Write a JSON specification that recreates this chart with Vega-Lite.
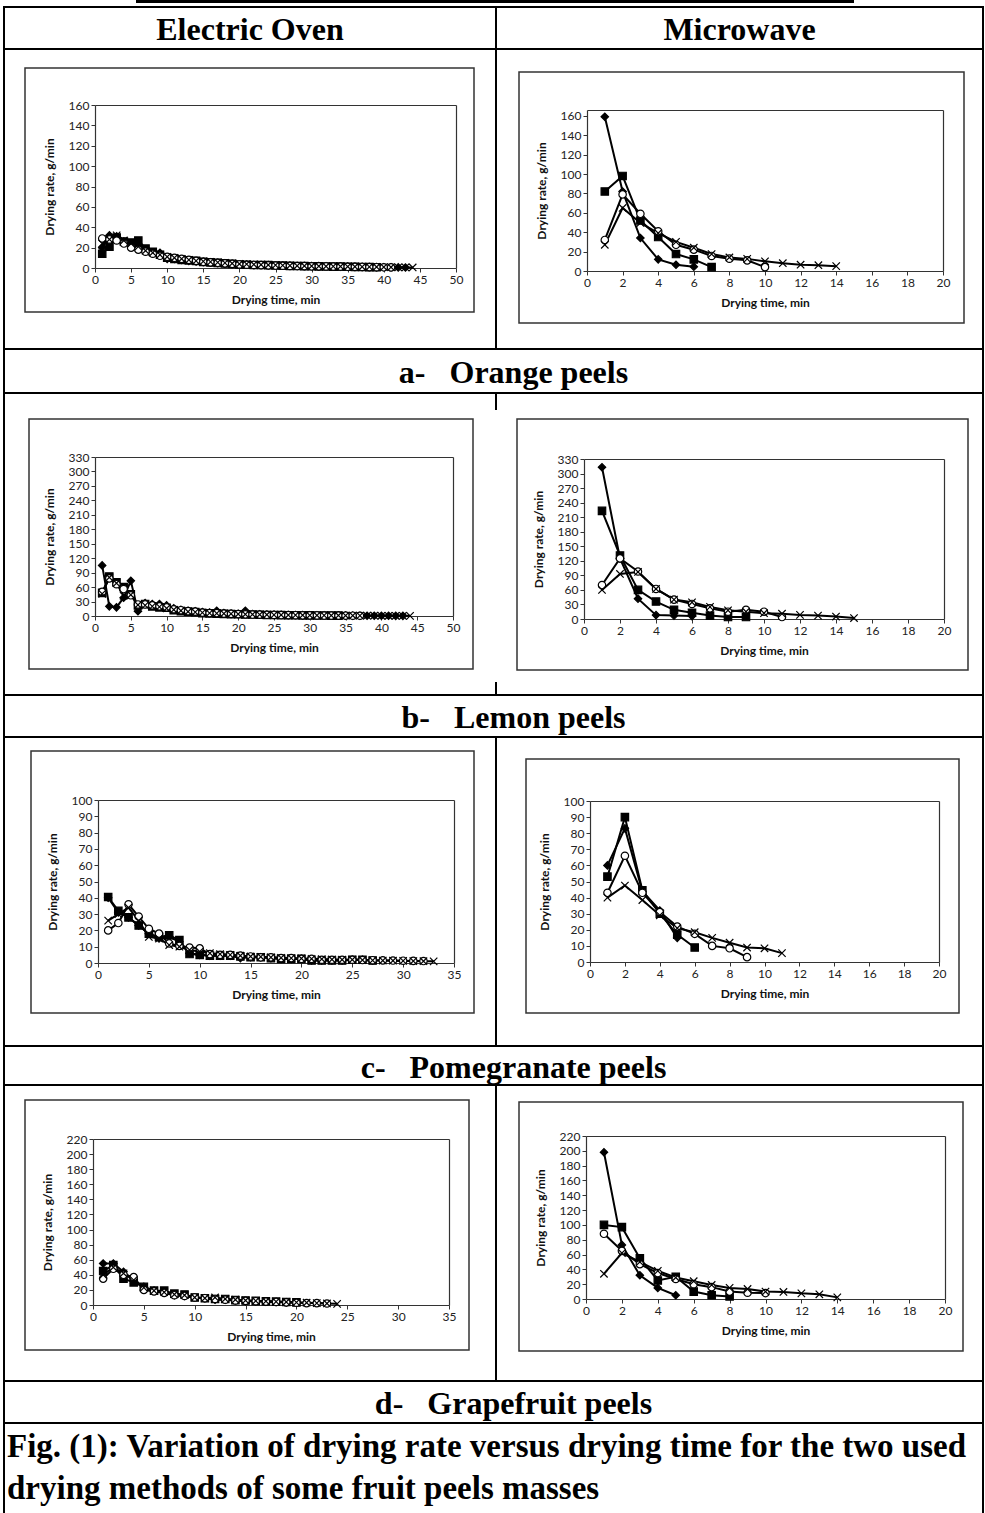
{
"$schema":"https://vega.github.io/schema/vega-lite/v6.json",
"background":"white",
"padding":0,
"spacing":0,
"bounds":"full",
"config":{
 "view":{"stroke":null},
 "axis":{"grid":false,"domainColor":"#333333","domainWidth":1.2,"tickColor":"#333333","tickSize":4,"tickWidth":1,"labelFont":"Lato","labelFontSize":12,"labelColor":"#222222","labelPadding":2,"labelFlush":false,"labelOverlap":false,"titleFont":"Lato","titleFontSize":12,"titleFontWeight":"bold","titleColor":"#111111"},
 "axisX":{"titlePadding":9},
 "axisY":{"titlePadding":12}
},
"datasets":{
"oe":[
{"s":"A","t":1,"r":20},{"s":"A","t":2,"r":32},{"s":"A","t":3,"r":31},{"s":"A","t":4,"r":26},{"s":"A","t":5,"r":24},{"s":"A","t":6,"r":22},{"s":"A","t":7,"r":17},{"s":"A","t":8,"r":15},{"s":"A","t":9,"r":15},{"s":"A","t":10,"r":9},{"s":"A","t":11,"r":9},{"s":"A","t":12,"r":8},{"s":"A","t":13,"r":7},{"s":"A","t":14,"r":6.5},{"s":"A","t":15,"r":6},{"s":"A","t":16,"r":5.5},{"s":"A","t":17,"r":5},{"s":"A","t":18,"r":4.5},{"s":"A","t":19,"r":4},{"s":"A","t":20,"r":3.5},{"s":"A","t":21,"r":3.5},{"s":"A","t":22,"r":3},{"s":"A","t":23,"r":3},{"s":"A","t":24,"r":3},{"s":"A","t":25,"r":2.5},{"s":"A","t":26,"r":2.5},{"s":"A","t":27,"r":2.5},{"s":"A","t":28,"r":2},{"s":"A","t":29,"r":2},{"s":"A","t":30,"r":2},{"s":"A","t":31,"r":1.8},{"s":"A","t":32,"r":1.6},{"s":"A","t":33,"r":1.5},{"s":"A","t":34,"r":1.4},{"s":"A","t":35,"r":1.3},{"s":"A","t":36,"r":1.2},{"s":"A","t":37,"r":1.1},{"s":"A","t":38,"r":1},{"s":"A","t":39,"r":0.9},{"s":"A","t":40,"r":0.8},{"s":"A","t":41,"r":0.7},{"s":"A","t":42,"r":0.6},{"s":"A","t":43,"r":0.5},
{"s":"B","t":1,"r":14},{"s":"B","t":2,"r":21},{"s":"B","t":3,"r":30},{"s":"B","t":4,"r":26},{"s":"B","t":5,"r":25},{"s":"B","t":6,"r":27},{"s":"B","t":7,"r":19},{"s":"B","t":8,"r":16},{"s":"B","t":9,"r":13},{"s":"B","t":10,"r":10},{"s":"B","t":11,"r":9},{"s":"B","t":12,"r":8},{"s":"B","t":13,"r":7.5},{"s":"B","t":14,"r":7},{"s":"B","t":15,"r":6},{"s":"B","t":16,"r":5.5},{"s":"B","t":17,"r":5},{"s":"B","t":18,"r":4.5},{"s":"B","t":19,"r":4},{"s":"B","t":20,"r":3.5},{"s":"B","t":21,"r":3.2},{"s":"B","t":22,"r":3},{"s":"B","t":23,"r":3},{"s":"B","t":24,"r":2.8},{"s":"B","t":25,"r":2.5},{"s":"B","t":26,"r":2.3},{"s":"B","t":27,"r":2.1},{"s":"B","t":28,"r":2},{"s":"B","t":29,"r":1.8},{"s":"B","t":30,"r":1.7},{"s":"B","t":31,"r":1.6},{"s":"B","t":32,"r":1.5},{"s":"B","t":33,"r":1.4},{"s":"B","t":34,"r":1.3},{"s":"B","t":35,"r":1.2},{"s":"B","t":36,"r":1.1},{"s":"B","t":37,"r":1},{"s":"B","t":38,"r":0.9},{"s":"B","t":39,"r":0.8},
{"s":"C","t":1,"r":29},{"s":"C","t":2,"r":28},{"s":"C","t":3,"r":27},{"s":"C","t":4,"r":24},{"s":"C","t":5,"r":20},{"s":"C","t":6,"r":18},{"s":"C","t":7,"r":16},{"s":"C","t":8,"r":14},{"s":"C","t":9,"r":12},{"s":"C","t":10,"r":11},{"s":"C","t":11,"r":10},{"s":"C","t":12,"r":9},{"s":"C","t":13,"r":8},{"s":"C","t":14,"r":7},{"s":"C","t":15,"r":6},{"s":"C","t":16,"r":5.5},{"s":"C","t":17,"r":5},{"s":"C","t":18,"r":4.5},{"s":"C","t":19,"r":4},{"s":"C","t":20,"r":3.5},{"s":"C","t":21,"r":3.2},{"s":"C","t":22,"r":3},{"s":"C","t":23,"r":2.8},{"s":"C","t":24,"r":2.6},{"s":"C","t":25,"r":2.4},{"s":"C","t":26,"r":2.2},{"s":"C","t":27,"r":2},{"s":"C","t":28,"r":1.9},{"s":"C","t":29,"r":1.8},{"s":"C","t":30,"r":1.7},{"s":"C","t":31,"r":1.6},{"s":"C","t":32,"r":1.5},{"s":"C","t":33,"r":1.4},{"s":"C","t":34,"r":1.3},{"s":"C","t":35,"r":1.2},{"s":"C","t":36,"r":1.1},{"s":"C","t":37,"r":1},{"s":"C","t":38,"r":0.9},{"s":"C","t":39,"r":0.8},{"s":"C","t":40,"r":0.7},{"s":"C","t":41,"r":0.6},
{"s":"D","t":1,"r":24},{"s":"D","t":2,"r":28},{"s":"D","t":3,"r":32},{"s":"D","t":4,"r":27},{"s":"D","t":5,"r":24},{"s":"D","t":6,"r":21},{"s":"D","t":7,"r":17},{"s":"D","t":8,"r":15},{"s":"D","t":9,"r":13},{"s":"D","t":10,"r":11},{"s":"D","t":11,"r":10},{"s":"D","t":12,"r":9},{"s":"D","t":13,"r":8},{"s":"D","t":14,"r":7},{"s":"D","t":15,"r":6.5},{"s":"D","t":16,"r":6},{"s":"D","t":17,"r":5.5},{"s":"D","t":18,"r":5},{"s":"D","t":19,"r":4.5},{"s":"D","t":20,"r":4},{"s":"D","t":21,"r":3.8},{"s":"D","t":22,"r":3.5},{"s":"D","t":23,"r":3.2},{"s":"D","t":24,"r":3},{"s":"D","t":25,"r":2.8},{"s":"D","t":26,"r":2.6},{"s":"D","t":27,"r":2.4},{"s":"D","t":28,"r":2.2},{"s":"D","t":29,"r":2},{"s":"D","t":30,"r":1.9},{"s":"D","t":31,"r":1.8},{"s":"D","t":32,"r":1.7},{"s":"D","t":33,"r":1.6},{"s":"D","t":34,"r":1.5},{"s":"D","t":35,"r":1.4},{"s":"D","t":36,"r":1.3},{"s":"D","t":37,"r":1.2},{"s":"D","t":38,"r":1.1},{"s":"D","t":39,"r":1},{"s":"D","t":40,"r":0.9},{"s":"D","t":41,"r":0.8},{"s":"D","t":42,"r":0.7},{"s":"D","t":43,"r":0.6},{"s":"D","t":44,"r":0.5}
],
"om":[
{"s":"A","t":1,"r":159},{"s":"A","t":2,"r":82},{"s":"A","t":3,"r":34},{"s":"A","t":4,"r":12},{"s":"A","t":5,"r":6.5},{"s":"A","t":6,"r":4.5},
{"s":"B","t":1,"r":82},{"s":"B","t":2,"r":98},{"s":"B","t":3,"r":52},{"s":"B","t":4,"r":35},{"s":"B","t":5,"r":17.5},{"s":"B","t":6,"r":12},{"s":"B","t":7,"r":4},
{"s":"C","t":1,"r":32},{"s":"C","t":2,"r":79},{"s":"C","t":3,"r":59},{"s":"C","t":4,"r":41},{"s":"C","t":5,"r":27},{"s":"C","t":6,"r":22},{"s":"C","t":7,"r":15.5},{"s":"C","t":8,"r":12.7},{"s":"C","t":9,"r":11},{"s":"C","t":10,"r":4},
{"s":"D","t":1,"r":27},{"s":"D","t":2,"r":65},{"s":"D","t":3,"r":49.5},{"s":"D","t":4,"r":39},{"s":"D","t":5,"r":30},{"s":"D","t":6,"r":24},{"s":"D","t":7,"r":17.5},{"s":"D","t":8,"r":14},{"s":"D","t":9,"r":12.5},{"s":"D","t":10,"r":10},{"s":"D","t":11,"r":8},{"s":"D","t":12,"r":6.5},{"s":"D","t":13,"r":6},{"s":"D","t":14,"r":5}
],
"le":[
{"s":"A","t":1,"r":105},{"s":"A","t":2,"r":20},{"s":"A","t":3,"r":18},{"s":"A","t":4,"r":38},{"s":"A","t":5,"r":73},{"s":"A","t":6,"r":10},{"s":"A","t":7,"r":27},{"s":"A","t":8,"r":25},{"s":"A","t":9,"r":25},{"s":"A","t":10,"r":22},{"s":"A","t":11,"r":16},{"s":"A","t":12,"r":13},{"s":"A","t":13,"r":11},{"s":"A","t":14,"r":10},{"s":"A","t":15,"r":8},{"s":"A","t":16,"r":7},{"s":"A","t":17,"r":11},{"s":"A","t":18,"r":6},{"s":"A","t":19,"r":5},{"s":"A","t":20,"r":4.5},{"s":"A","t":21,"r":11},{"s":"A","t":22,"r":4},{"s":"A","t":23,"r":3.5},{"s":"A","t":24,"r":3},{"s":"A","t":25,"r":3},{"s":"A","t":26,"r":2.5},{"s":"A","t":27,"r":2.2},{"s":"A","t":28,"r":2},{"s":"A","t":29,"r":1.8},{"s":"A","t":30,"r":1.6},{"s":"A","t":31,"r":1.4},{"s":"A","t":32,"r":1.2},{"s":"A","t":33,"r":1},{"s":"A","t":34,"r":0.9},{"s":"A","t":35,"r":0.8},{"s":"A","t":36,"r":0.7},{"s":"A","t":37,"r":0.6},{"s":"A","t":38,"r":0.5},{"s":"A","t":39,"r":0.5},{"s":"A","t":40,"r":0.4},{"s":"A","t":41,"r":0.4},{"s":"A","t":42,"r":0.3},{"s":"A","t":43,"r":0.3},
{"s":"B","t":1,"r":48},{"s":"B","t":2,"r":82},{"s":"B","t":3,"r":70},{"s":"B","t":4,"r":60},{"s":"B","t":5,"r":45},{"s":"B","t":6,"r":22},{"s":"B","t":7,"r":25},{"s":"B","t":8,"r":20},{"s":"B","t":9,"r":18},{"s":"B","t":10,"r":17},{"s":"B","t":11,"r":12},{"s":"B","t":12,"r":10},{"s":"B","t":13,"r":9},{"s":"B","t":14,"r":8},{"s":"B","t":15,"r":6},{"s":"B","t":16,"r":5.5},{"s":"B","t":17,"r":5},{"s":"B","t":18,"r":4.5},{"s":"B","t":19,"r":4},{"s":"B","t":20,"r":3.5},{"s":"B","t":21,"r":3},{"s":"B","t":22,"r":3},{"s":"B","t":23,"r":2.5},{"s":"B","t":24,"r":2.2},{"s":"B","t":25,"r":2},{"s":"B","t":26,"r":1.8},{"s":"B","t":27,"r":1.6},{"s":"B","t":28,"r":1.5},{"s":"B","t":29,"r":1.3},{"s":"B","t":30,"r":1.2},{"s":"B","t":31,"r":1},{"s":"B","t":32,"r":0.9},{"s":"B","t":33,"r":0.8},{"s":"B","t":34,"r":0.7},
{"s":"C","t":1,"r":50},{"s":"C","t":2,"r":78},{"s":"C","t":3,"r":66},{"s":"C","t":4,"r":56},{"s":"C","t":5,"r":43},{"s":"C","t":6,"r":24},{"s":"C","t":7,"r":24},{"s":"C","t":8,"r":22},{"s":"C","t":9,"r":20},{"s":"C","t":10,"r":18},{"s":"C","t":11,"r":14},{"s":"C","t":12,"r":12},{"s":"C","t":13,"r":10},{"s":"C","t":14,"r":9},{"s":"C","t":15,"r":7},{"s":"C","t":16,"r":6},{"s":"C","t":17,"r":6},{"s":"C","t":18,"r":5},{"s":"C","t":19,"r":4.5},{"s":"C","t":20,"r":4},{"s":"C","t":21,"r":3.5},{"s":"C","t":22,"r":3},{"s":"C","t":23,"r":2.8},{"s":"C","t":24,"r":2.5},{"s":"C","t":25,"r":2.2},{"s":"C","t":26,"r":2},{"s":"C","t":27,"r":1.8},{"s":"C","t":28,"r":1.6},{"s":"C","t":29,"r":1.4},{"s":"C","t":30,"r":1.2},{"s":"C","t":31,"r":1.1},{"s":"C","t":32,"r":1},{"s":"C","t":33,"r":0.9},{"s":"C","t":34,"r":0.8},{"s":"C","t":35,"r":0.7},{"s":"C","t":36,"r":0.6},{"s":"C","t":37,"r":0.5},
{"s":"D","t":1,"r":46},{"s":"D","t":2,"r":80},{"s":"D","t":3,"r":68},{"s":"D","t":4,"r":42},{"s":"D","t":5,"r":44},{"s":"D","t":6,"r":23},{"s":"D","t":7,"r":22},{"s":"D","t":8,"r":20},{"s":"D","t":9,"r":19},{"s":"D","t":10,"r":16},{"s":"D","t":11,"r":13},{"s":"D","t":12,"r":11},{"s":"D","t":13,"r":9},{"s":"D","t":14,"r":8},{"s":"D","t":15,"r":7},{"s":"D","t":16,"r":6},{"s":"D","t":17,"r":5.5},{"s":"D","t":18,"r":5},{"s":"D","t":19,"r":4.5},{"s":"D","t":20,"r":4},{"s":"D","t":21,"r":3.6},{"s":"D","t":22,"r":3.2},{"s":"D","t":23,"r":3},{"s":"D","t":24,"r":2.7},{"s":"D","t":25,"r":2.4},{"s":"D","t":26,"r":2.2},{"s":"D","t":27,"r":2},{"s":"D","t":28,"r":1.8},{"s":"D","t":29,"r":1.6},{"s":"D","t":30,"r":1.5},{"s":"D","t":31,"r":1.4},{"s":"D","t":32,"r":1.3},{"s":"D","t":33,"r":1.2},{"s":"D","t":34,"r":1.1},{"s":"D","t":35,"r":1},{"s":"D","t":36,"r":0.9},{"s":"D","t":37,"r":0.8},{"s":"D","t":38,"r":0.7},{"s":"D","t":39,"r":0.6},{"s":"D","t":40,"r":0.5},{"s":"D","t":41,"r":0.5},{"s":"D","t":42,"r":0.4},{"s":"D","t":43,"r":0.3},{"s":"D","t":44,"r":0.3}
],
"lm":[
{"s":"A","t":1,"r":313},{"s":"A","t":2,"r":125},{"s":"A","t":3,"r":42},{"s":"A","t":4,"r":8},{"s":"A","t":5,"r":7},{"s":"A","t":6,"r":6},
{"s":"B","t":1,"r":223},{"s":"B","t":2,"r":131},{"s":"B","t":3,"r":60},{"s":"B","t":4,"r":36},{"s":"B","t":5,"r":19},{"s":"B","t":6,"r":13},{"s":"B","t":7,"r":7},{"s":"B","t":8,"r":4},{"s":"B","t":9,"r":4},
{"s":"C","t":1,"r":70},{"s":"C","t":2,"r":125},{"s":"C","t":3,"r":98},{"s":"C","t":4,"r":62},{"s":"C","t":5,"r":40},{"s":"C","t":6,"r":31},{"s":"C","t":7,"r":22},{"s":"C","t":8,"r":15},{"s":"C","t":9,"r":19},{"s":"C","t":10,"r":15},{"s":"C","t":11,"r":4},
{"s":"D","t":1,"r":60},{"s":"D","t":2,"r":93},{"s":"D","t":3,"r":97},{"s":"D","t":4,"r":62},{"s":"D","t":5,"r":40},{"s":"D","t":6,"r":34.5},{"s":"D","t":7,"r":25},{"s":"D","t":8,"r":18},{"s":"D","t":9,"r":15},{"s":"D","t":10,"r":12},{"s":"D","t":11,"r":11},{"s":"D","t":12,"r":8.5},{"s":"D","t":13,"r":7},{"s":"D","t":14,"r":5},{"s":"D","t":15,"r":2}
],
"pe":[
{"s":"A","t":1,"r":40},{"s":"A","t":2,"r":31},{"s":"A","t":3,"r":28},{"s":"A","t":4,"r":23},{"s":"A","t":5,"r":18},{"s":"A","t":6,"r":15},{"s":"A","t":7,"r":16},{"s":"A","t":8,"r":13},{"s":"A","t":9,"r":6},{"s":"A","t":10,"r":5},{"s":"A","t":11,"r":4.5},{"s":"A","t":12,"r":4.5},{"s":"A","t":13,"r":4.5},{"s":"A","t":14,"r":3},{"s":"A","t":15,"r":3.5},{"s":"A","t":16,"r":3.5},{"s":"A","t":17,"r":3},{"s":"A","t":18,"r":2.5},{"s":"A","t":19,"r":2.5},{"s":"A","t":20,"r":2.5},{"s":"A","t":21,"r":1.5},{"s":"A","t":22,"r":1.5},{"s":"A","t":23,"r":1.5},{"s":"A","t":24,"r":1.5},{"s":"A","t":25,"r":2},{"s":"A","t":26,"r":2},{"s":"A","t":27,"r":1.5},
{"s":"B","t":1,"r":40.5},{"s":"B","t":2,"r":32},{"s":"B","t":3,"r":28},{"s":"B","t":4,"r":23},{"s":"B","t":5,"r":18},{"s":"B","t":6,"r":16},{"s":"B","t":7,"r":17},{"s":"B","t":8,"r":14},{"s":"B","t":9,"r":5.5},{"s":"B","t":10,"r":5},{"s":"B","t":11,"r":4.5},{"s":"B","t":12,"r":4.5},{"s":"B","t":13,"r":4.5},{"s":"B","t":14,"r":4},{"s":"B","t":15,"r":3.5},{"s":"B","t":16,"r":3.5},{"s":"B","t":17,"r":3},{"s":"B","t":18,"r":2.5},{"s":"B","t":19,"r":2.5},{"s":"B","t":20,"r":2.5},{"s":"B","t":21,"r":1.5},{"s":"B","t":22,"r":1.5},{"s":"B","t":23,"r":1.5},{"s":"B","t":24,"r":1.5},{"s":"B","t":25,"r":2},{"s":"B","t":26,"r":2},{"s":"B","t":27,"r":1.5},
{"s":"C","t":1,"r":20},{"s":"C","t":2,"r":24.5},{"s":"C","t":3,"r":36},{"s":"C","t":4,"r":28.5},{"s":"C","t":5,"r":21},{"s":"C","t":6,"r":18},{"s":"C","t":7,"r":12},{"s":"C","t":8,"r":10.5},{"s":"C","t":9,"r":9.5},{"s":"C","t":10,"r":9},{"s":"C","t":11,"r":5.5},{"s":"C","t":12,"r":5},{"s":"C","t":13,"r":5},{"s":"C","t":14,"r":4.5},{"s":"C","t":15,"r":4},{"s":"C","t":16,"r":3.5},{"s":"C","t":17,"r":3.5},{"s":"C","t":18,"r":3},{"s":"C","t":19,"r":3},{"s":"C","t":20,"r":2.5},{"s":"C","t":21,"r":2.5},{"s":"C","t":22,"r":2},{"s":"C","t":23,"r":2},{"s":"C","t":24,"r":2},{"s":"C","t":25,"r":2},{"s":"C","t":26,"r":1.8},{"s":"C","t":27,"r":1.7},{"s":"C","t":28,"r":1.6},{"s":"C","t":29,"r":1.5},{"s":"C","t":30,"r":1.4},{"s":"C","t":31,"r":1.3},{"s":"C","t":32,"r":1.2},
{"s":"D","t":1,"r":26},{"s":"D","t":2,"r":30},{"s":"D","t":3,"r":34},{"s":"D","t":4,"r":26},{"s":"D","t":5,"r":16},{"s":"D","t":6,"r":15},{"s":"D","t":7,"r":11},{"s":"D","t":8,"r":10},{"s":"D","t":9,"r":8},{"s":"D","t":10,"r":7},{"s":"D","t":11,"r":6},{"s":"D","t":12,"r":5.5},{"s":"D","t":13,"r":5},{"s":"D","t":14,"r":4.5},{"s":"D","t":15,"r":4},{"s":"D","t":16,"r":3.8},{"s":"D","t":17,"r":3.5},{"s":"D","t":18,"r":3.2},{"s":"D","t":19,"r":3},{"s":"D","t":20,"r":2.8},{"s":"D","t":21,"r":2.6},{"s":"D","t":22,"r":2.4},{"s":"D","t":23,"r":2.2},{"s":"D","t":24,"r":2},{"s":"D","t":25,"r":2},{"s":"D","t":26,"r":1.8},{"s":"D","t":27,"r":1.6},{"s":"D","t":28,"r":1.5},{"s":"D","t":29,"r":1.4},{"s":"D","t":30,"r":1.3},{"s":"D","t":31,"r":1.2},{"s":"D","t":32,"r":1.1},{"s":"D","t":33,"r":1}
],
"pm":[
{"s":"A","t":1,"r":60},{"s":"A","t":2,"r":83},{"s":"A","t":3,"r":44},{"s":"A","t":4,"r":32},{"s":"A","t":5,"r":15},
{"s":"B","t":1,"r":53},{"s":"B","t":2,"r":90},{"s":"B","t":3,"r":44.5},{"s":"B","t":4,"r":30},{"s":"B","t":5,"r":17},{"s":"B","t":6,"r":9},
{"s":"C","t":1,"r":43},{"s":"C","t":2,"r":66},{"s":"C","t":3,"r":43},{"s":"C","t":4,"r":31},{"s":"C","t":5,"r":22},{"s":"C","t":6,"r":17.5},{"s":"C","t":7,"r":10},{"s":"C","t":8,"r":8.5},{"s":"C","t":9,"r":3},
{"s":"D","t":1,"r":40},{"s":"D","t":2,"r":47.5},{"s":"D","t":3,"r":38.5},{"s":"D","t":4,"r":29},{"s":"D","t":5,"r":21},{"s":"D","t":6,"r":18.5},{"s":"D","t":7,"r":15},{"s":"D","t":8,"r":12},{"s":"D","t":9,"r":9},{"s":"D","t":10,"r":8.5},{"s":"D","t":11,"r":5.5}
],
"ge":[
{"s":"A","t":1,"r":55},{"s":"A","t":2,"r":55},{"s":"A","t":3,"r":44},{"s":"A","t":4,"r":33},{"s":"A","t":5,"r":24},{"s":"A","t":6,"r":19},{"s":"A","t":7,"r":17},{"s":"A","t":8,"r":13},{"s":"A","t":9,"r":12},{"s":"A","t":10,"r":10},{"s":"A","t":11,"r":9},{"s":"A","t":12,"r":7},{"s":"A","t":13,"r":7},{"s":"A","t":14,"r":6},{"s":"A","t":15,"r":5},{"s":"A","t":16,"r":5},{"s":"A","t":17,"r":4.5},{"s":"A","t":18,"r":4},{"s":"A","t":19,"r":3.5},{"s":"A","t":20,"r":3},
{"s":"B","t":1,"r":45},{"s":"B","t":2,"r":53},{"s":"B","t":3,"r":35},{"s":"B","t":4,"r":30},{"s":"B","t":5,"r":24},{"s":"B","t":6,"r":19},{"s":"B","t":7,"r":19},{"s":"B","t":8,"r":15},{"s":"B","t":9,"r":14},{"s":"B","t":10,"r":10},{"s":"B","t":11,"r":9},{"s":"B","t":12,"r":8},{"s":"B","t":13,"r":8},{"s":"B","t":14,"r":6.5},{"s":"B","t":15,"r":6},{"s":"B","t":16,"r":5.5},{"s":"B","t":17,"r":5},{"s":"B","t":18,"r":4.5},{"s":"B","t":19,"r":4},{"s":"B","t":20,"r":3.5},
{"s":"C","t":1,"r":35},{"s":"C","t":2,"r":48},{"s":"C","t":3,"r":40},{"s":"C","t":4,"r":37},{"s":"C","t":5,"r":20},{"s":"C","t":6,"r":18},{"s":"C","t":7,"r":16},{"s":"C","t":8,"r":13},{"s":"C","t":9,"r":12},{"s":"C","t":10,"r":10},{"s":"C","t":11,"r":9},{"s":"C","t":12,"r":8},{"s":"C","t":13,"r":7},{"s":"C","t":14,"r":6},{"s":"C","t":15,"r":5.5},{"s":"C","t":16,"r":5},{"s":"C","t":17,"r":4.5},{"s":"C","t":18,"r":4},{"s":"C","t":19,"r":3.5},{"s":"C","t":20,"r":3},{"s":"C","t":21,"r":2.5},{"s":"C","t":22,"r":2.5},{"s":"C","t":23,"r":2},
{"s":"D","t":1,"r":40},{"s":"D","t":2,"r":50},{"s":"D","t":3,"r":42},{"s":"D","t":4,"r":33},{"s":"D","t":5,"r":23},{"s":"D","t":6,"r":19},{"s":"D","t":7,"r":17},{"s":"D","t":8,"r":14},{"s":"D","t":9,"r":13},{"s":"D","t":10,"r":10},{"s":"D","t":11,"r":9},{"s":"D","t":12,"r":10},{"s":"D","t":13,"r":8},{"s":"D","t":14,"r":7},{"s":"D","t":15,"r":6},{"s":"D","t":16,"r":5.5},{"s":"D","t":17,"r":5},{"s":"D","t":18,"r":4.5},{"s":"D","t":19,"r":4},{"s":"D","t":20,"r":3.5},{"s":"D","t":21,"r":3},{"s":"D","t":22,"r":2.5},{"s":"D","t":23,"r":2},{"s":"D","t":24,"r":1.5}
],
"gm":[
{"s":"A","t":1,"r":198},{"s":"A","t":2,"r":73},{"s":"A","t":3,"r":32},{"s":"A","t":4,"r":15},{"s":"A","t":5,"r":5},
{"s":"B","t":1,"r":100},{"s":"B","t":2,"r":97},{"s":"B","t":3,"r":55},{"s":"B","t":4,"r":25},{"s":"B","t":5,"r":30},{"s":"B","t":6,"r":10},{"s":"B","t":7,"r":5},{"s":"B","t":8,"r":3.5},
{"s":"C","t":1,"r":88},{"s":"C","t":2,"r":65},{"s":"C","t":3,"r":47},{"s":"C","t":4,"r":35},{"s":"C","t":5,"r":27},{"s":"C","t":6,"r":20},{"s":"C","t":7,"r":16},{"s":"C","t":8,"r":10},{"s":"C","t":9,"r":8.5},{"s":"C","t":10,"r":8},
{"s":"D","t":1,"r":34},{"s":"D","t":2,"r":62},{"s":"D","t":3,"r":50},{"s":"D","t":4,"r":38},{"s":"D","t":5,"r":29},{"s":"D","t":6,"r":24},{"s":"D","t":7,"r":19},{"s":"D","t":8,"r":15},{"s":"D","t":9,"r":13.5},{"s":"D","t":10,"r":10},{"s":"D","t":11,"r":9.5},{"s":"D","t":12,"r":7.6},{"s":"D","t":13,"r":6.3},{"s":"D","t":14,"r":2.2}
]
},
"vconcat":[
{"hconcat":[
 {"width":136,"height":3,"data":{"values":[]},"mark":"point","encoding":{}},
 {"width":718,"height":3,"data":{"values":[]},"mark":"point","encoding":{},"view":{"fill":"#000000"}}
],"spacing":0,"bounds":"full"},
{"width":984,"height":3,"data":{"values":[]},"mark":"point","encoding":{}},
{"hconcat":[
 {"width":3,"height":2,"data":{"values":[]},"mark":"point","encoding":{}},
 {"width":981,"height":2,"data":{"values":[]},"mark":"point","encoding":{},"view":{"fill":"#000000"}}
],"spacing":0,"bounds":"full"},
{"hconcat":[
 {"width":3,"height":40,"data":{"values":[]},"mark":"point","encoding":{}},
 {"width":2,"height":40,"data":{"values":[]},"mark":"point","encoding":{},"view":{"fill":"#000000"}},
 {"width":490,"height":40,"data":{"values":[{"label":"Electric Oven"}]},"mark":{"type":"text","font":"Liberation Serif","fontSize":32,"fontWeight":"bold","align":"center","baseline":"middle","color":"#000000","dy":2},"encoding":{"text":{"field":"label"}}},
 {"width":2,"height":40,"data":{"values":[]},"mark":"point","encoding":{},"view":{"fill":"#000000"}},
 {"width":485,"height":40,"data":{"values":[{"label":"Microwave"}]},"mark":{"type":"text","font":"Liberation Serif","fontSize":32,"fontWeight":"bold","align":"center","baseline":"middle","color":"#000000","dy":2},"encoding":{"text":{"field":"label"}}},
 {"width":2,"height":40,"data":{"values":[]},"mark":"point","encoding":{},"view":{"fill":"#000000"}}
],"spacing":0,"bounds":"full"},
{"hconcat":[
 {"width":3,"height":2,"data":{"values":[]},"mark":"point","encoding":{}},
 {"width":981,"height":2,"data":{"values":[]},"mark":"point","encoding":{},"view":{"fill":"#000000"}}
],"spacing":0,"bounds":"full"},
{"hconcat":[
 {"width":3,"height":298,"data":{"values":[]},"mark":"point","encoding":{}},
 {"width":2,"height":298,"data":{"values":[]},"mark":"point","encoding":{},"view":{"fill":"#000000"}},
 {"vconcat":[
  {"width":490,"height":17,"data":{"values":[]},"mark":"point","encoding":{}},
  {"hconcat":[
   {"width":19,"height":1,"data":{"values":[]},"mark":"point","encoding":{}},
   {"width":449,"height":244,"view":{"stroke":"#333333","strokeWidth":1.5},"data":{"name":"oe"},
    "resolve":{"axis":{"x":"independent","y":"independent"}},
    "layer":[
     {"mark":{"type":"line","color":"#000000","strokeWidth":2},
      "encoding":{
       "x":{"field":"t","type":"quantitative","scale":{"domain":[0,50],"range":[70,431],"nice":false,"zero":false},"axis":{"orient":"bottom","offset":-44,"values":[0,5,10,15,20,25,30,35,40,45,50],"title":"Drying time, min"}},
       "y":{"field":"r","type":"quantitative","scale":{"domain":[0,160],"range":[200,37],"nice":false,"zero":false},"axis":{"orient":"left","offset":-70,"values":[0,20,40,60,80,100,120,140,160],"title":"Drying rate, g/min"}},
       "detail":{"field":"s","type":"nominal"}}},
     {"mark":{"type":"point","filled":true,"opacity":1,"stroke":"#000000","strokeWidth":1.2},
      "encoding":{
       "x":{"field":"t","type":"quantitative","scale":{"domain":[0,50],"range":[70,431],"nice":false,"zero":false},"axis":{"orient":"top","offset":-37,"labels":false,"ticks":false,"title":null}},
       "y":{"field":"r","type":"quantitative","scale":{"domain":[0,160],"range":[200,37],"nice":false,"zero":false},"axis":{"orient":"right","offset":-18,"labels":false,"ticks":false,"title":null}},
       "shape":{"field":"s","type":"nominal","scale":{"domain":["A","B","C","D"],"range":["diamond","square","circle","M-1,-1L1,1M-1,1L1,-1"]},"legend":null},
       "fill":{"field":"s","type":"nominal","scale":{"domain":["A","B","C","D"],"range":["#000000","#000000","#ffffff","transparent"]},"legend":null},
       "size":{"value":55}}}
    ]}
  ],"spacing":0,"bounds":"full"}
 ],"spacing":0,"bounds":"full"},
 {"width":2,"height":298,"data":{"values":[]},"mark":"point","encoding":{},"view":{"fill":"#000000"}},
 {"vconcat":[
  {"width":485,"height":21,"data":{"values":[]},"mark":"point","encoding":{}},
  {"hconcat":[
   {"width":21,"height":1,"data":{"values":[]},"mark":"point","encoding":{}},
   {"width":445,"height":251,"view":{"stroke":"#333333","strokeWidth":1.5},"data":{"name":"om"},
    "resolve":{"axis":{"x":"independent","y":"independent"}},
    "layer":[
     {"mark":{"type":"line","color":"#000000","strokeWidth":2},
      "encoding":{
       "x":{"field":"t","type":"quantitative","scale":{"domain":[0,20],"range":[68,424],"nice":false,"zero":false},"axis":{"orient":"bottom","offset":-52,"values":[0,2,4,6,8,10,12,14,16,18,20],"title":"Drying time, min"}},
       "y":{"field":"r","type":"quantitative","scale":{"domain":[0,166],"range":[199,38],"nice":false,"zero":false},"axis":{"orient":"left","offset":-68,"values":[0,20,40,60,80,100,120,140,160],"title":"Drying rate, g/min"}},
       "detail":{"field":"s","type":"nominal"}}},
     {"mark":{"type":"point","filled":true,"opacity":1,"stroke":"#000000","strokeWidth":1.2},
      "encoding":{
       "x":{"field":"t","type":"quantitative","scale":{"domain":[0,20],"range":[68,424],"nice":false,"zero":false},"axis":{"orient":"top","offset":-38,"labels":false,"ticks":false,"title":null}},
       "y":{"field":"r","type":"quantitative","scale":{"domain":[0,166],"range":[199,38],"nice":false,"zero":false},"axis":{"orient":"right","offset":-21,"labels":false,"ticks":false,"title":null}},
       "shape":{"field":"s","type":"nominal","scale":{"domain":["A","B","C","D"],"range":["diamond","square","circle","M-1,-1L1,1M-1,1L1,-1"]},"legend":null},
       "fill":{"field":"s","type":"nominal","scale":{"domain":["A","B","C","D"],"range":["#000000","#000000","#ffffff","transparent"]},"legend":null},
       "size":{"value":55}}}
    ]}
  ],"spacing":0,"bounds":"full"}
 ],"spacing":0,"bounds":"full"},
 {"width":2,"height":298,"data":{"values":[]},"mark":"point","encoding":{},"view":{"fill":"#000000"}}
],"spacing":0,"bounds":"full"},
{"hconcat":[
 {"width":3,"height":2,"data":{"values":[]},"mark":"point","encoding":{}},
 {"width":981,"height":2,"data":{"values":[]},"mark":"point","encoding":{},"view":{"fill":"#000000"}}
],"spacing":0,"bounds":"full"},
{"hconcat":[
 {"width":3,"height":42,"data":{"values":[]},"mark":"point","encoding":{}},
 {"width":2,"height":42,"data":{"values":[]},"mark":"point","encoding":{},"view":{"fill":"#000000"}},
 {"width":977,"height":42,"data":{"values":[{"label":"a-\u00a0\u00a0\u00a0Orange peels"}]},"mark":{"type":"text","font":"Liberation Serif","fontSize":32,"fontWeight":"bold","align":"center","baseline":"middle","color":"#000000","dx":20,"dy":2},"encoding":{"text":{"field":"label"}}},
 {"width":2,"height":42,"data":{"values":[]},"mark":"point","encoding":{},"view":{"fill":"#000000"}}
],"spacing":0,"bounds":"full"},
{"hconcat":[
 {"width":3,"height":2,"data":{"values":[]},"mark":"point","encoding":{}},
 {"width":981,"height":2,"data":{"values":[]},"mark":"point","encoding":{},"view":{"fill":"#000000"}}
],"spacing":0,"bounds":"full"},
{"hconcat":[
 {"width":3,"height":300,"data":{"values":[]},"mark":"point","encoding":{}},
 {"width":2,"height":300,"data":{"values":[]},"mark":"point","encoding":{},"view":{"fill":"#000000"}},
 {"vconcat":[
  {"width":490,"height":24,"data":{"values":[]},"mark":"point","encoding":{}},
  {"hconcat":[
   {"width":23,"height":1,"data":{"values":[]},"mark":"point","encoding":{}},
   {"width":444,"height":250,"view":{"stroke":"#333333","strokeWidth":1.5},"data":{"name":"le"},
    "resolve":{"axis":{"x":"independent","y":"independent"}},
    "layer":[
     {"mark":{"type":"line","color":"#000000","strokeWidth":2},
      "encoding":{
       "x":{"field":"t","type":"quantitative","scale":{"domain":[0,50],"range":[66,424],"nice":false,"zero":false},"axis":{"orient":"bottom","offset":-53,"values":[0,5,10,15,20,25,30,35,40,45,50],"title":"Drying time, min"}},
       "y":{"field":"r","type":"quantitative","scale":{"domain":[0,330],"range":[197,38],"nice":false,"zero":false},"axis":{"orient":"left","offset":-66,"values":[0,30,60,90,120,150,180,210,240,270,300,330],"title":"Drying rate, g/min"}},
       "detail":{"field":"s","type":"nominal"}}},
     {"mark":{"type":"point","filled":true,"opacity":1,"stroke":"#000000","strokeWidth":1.2},
      "encoding":{
       "x":{"field":"t","type":"quantitative","scale":{"domain":[0,50],"range":[66,424],"nice":false,"zero":false},"axis":{"orient":"top","offset":-38,"labels":false,"ticks":false,"title":null}},
       "y":{"field":"r","type":"quantitative","scale":{"domain":[0,330],"range":[197,38],"nice":false,"zero":false},"axis":{"orient":"right","offset":-20,"labels":false,"ticks":false,"title":null}},
       "shape":{"field":"s","type":"nominal","scale":{"domain":["A","B","C","D"],"range":["diamond","square","circle","M-1,-1L1,1M-1,1L1,-1"]},"legend":null},
       "fill":{"field":"s","type":"nominal","scale":{"domain":["A","B","C","D"],"range":["#000000","#000000","#ffffff","transparent"]},"legend":null},
       "size":{"value":55}}}
    ]}
  ],"spacing":0,"bounds":"full"}
 ],"spacing":0,"bounds":"full"},
 {"vconcat":[
  {"width":2,"height":16,"data":{"values":[]},"mark":"point","encoding":{},"view":{"fill":"#000000"}},
  {"width":2,"height":272,"data":{"values":[]},"mark":"point","encoding":{}},
  {"width":2,"height":12,"data":{"values":[]},"mark":"point","encoding":{},"view":{"fill":"#000000"}}
 ],"spacing":0,"bounds":"full"},
 {"vconcat":[
  {"width":485,"height":24,"data":{"values":[]},"mark":"point","encoding":{}},
  {"hconcat":[
   {"width":19,"height":1,"data":{"values":[]},"mark":"point","encoding":{}},
   {"width":451,"height":251,"view":{"stroke":"#333333","strokeWidth":1.5},"data":{"name":"lm"},
    "resolve":{"axis":{"x":"independent","y":"independent"}},
    "layer":[
     {"mark":{"type":"line","color":"#000000","strokeWidth":2},
      "encoding":{
       "x":{"field":"t","type":"quantitative","scale":{"domain":[0,20],"range":[67,427],"nice":false,"zero":false},"axis":{"orient":"bottom","offset":-51,"values":[0,2,4,6,8,10,12,14,16,18,20],"title":"Drying time, min"}},
       "y":{"field":"r","type":"quantitative","scale":{"domain":[0,330],"range":[200,40],"nice":false,"zero":false},"axis":{"orient":"left","offset":-67,"values":[0,30,60,90,120,150,180,210,240,270,300,330],"title":"Drying rate, g/min"}},
       "detail":{"field":"s","type":"nominal"}}},
     {"mark":{"type":"point","filled":true,"opacity":1,"stroke":"#000000","strokeWidth":1.2},
      "encoding":{
       "x":{"field":"t","type":"quantitative","scale":{"domain":[0,20],"range":[67,427],"nice":false,"zero":false},"axis":{"orient":"top","offset":-40,"labels":false,"ticks":false,"title":null}},
       "y":{"field":"r","type":"quantitative","scale":{"domain":[0,330],"range":[200,40],"nice":false,"zero":false},"axis":{"orient":"right","offset":-24,"labels":false,"ticks":false,"title":null}},
       "shape":{"field":"s","type":"nominal","scale":{"domain":["A","B","C","D"],"range":["diamond","square","circle","M-1,-1L1,1M-1,1L1,-1"]},"legend":null},
       "fill":{"field":"s","type":"nominal","scale":{"domain":["A","B","C","D"],"range":["#000000","#000000","#ffffff","transparent"]},"legend":null},
       "size":{"value":55}}}
    ]}
  ],"spacing":0,"bounds":"full"}
 ],"spacing":0,"bounds":"full"},
 {"width":2,"height":300,"data":{"values":[]},"mark":"point","encoding":{},"view":{"fill":"#000000"}}
],"spacing":0,"bounds":"full"},
{"hconcat":[
 {"width":3,"height":2,"data":{"values":[]},"mark":"point","encoding":{}},
 {"width":981,"height":2,"data":{"values":[]},"mark":"point","encoding":{},"view":{"fill":"#000000"}}
],"spacing":0,"bounds":"full"},
{"hconcat":[
 {"width":3,"height":40,"data":{"values":[]},"mark":"point","encoding":{}},
 {"width":2,"height":40,"data":{"values":[]},"mark":"point","encoding":{},"view":{"fill":"#000000"}},
 {"width":977,"height":40,"data":{"values":[{"label":"b-\u00a0\u00a0\u00a0Lemon peels"}]},"mark":{"type":"text","font":"Liberation Serif","fontSize":32,"fontWeight":"bold","align":"center","baseline":"middle","color":"#000000","dx":20,"dy":2},"encoding":{"text":{"field":"label"}}},
 {"width":2,"height":40,"data":{"values":[]},"mark":"point","encoding":{},"view":{"fill":"#000000"}}
],"spacing":0,"bounds":"full"},
{"hconcat":[
 {"width":3,"height":2,"data":{"values":[]},"mark":"point","encoding":{}},
 {"width":981,"height":2,"data":{"values":[]},"mark":"point","encoding":{},"view":{"fill":"#000000"}}
],"spacing":0,"bounds":"full"},
{"hconcat":[
 {"width":3,"height":307,"data":{"values":[]},"mark":"point","encoding":{}},
 {"width":2,"height":307,"data":{"values":[]},"mark":"point","encoding":{},"view":{"fill":"#000000"}},
 {"vconcat":[
  {"width":490,"height":12,"data":{"values":[]},"mark":"point","encoding":{}},
  {"hconcat":[
   {"width":25,"height":1,"data":{"values":[]},"mark":"point","encoding":{}},
   {"width":443,"height":262,"view":{"stroke":"#333333","strokeWidth":1.5},"data":{"name":"pe"},
    "resolve":{"axis":{"x":"independent","y":"independent"}},
    "layer":[
     {"mark":{"type":"line","color":"#000000","strokeWidth":2},
      "encoding":{
       "x":{"field":"t","type":"quantitative","scale":{"domain":[0,35],"range":[67,423],"nice":false,"zero":false},"axis":{"orient":"bottom","offset":-50,"values":[0,5,10,15,20,25,30,35],"title":"Drying time, min"}},
       "y":{"field":"r","type":"quantitative","scale":{"domain":[0,100],"range":[212,49],"nice":false,"zero":false},"axis":{"orient":"left","offset":-67,"values":[0,10,20,30,40,50,60,70,80,90,100],"title":"Drying rate, g/min"}},
       "detail":{"field":"s","type":"nominal"}}},
     {"mark":{"type":"point","filled":true,"opacity":1,"stroke":"#000000","strokeWidth":1.2},
      "encoding":{
       "x":{"field":"t","type":"quantitative","scale":{"domain":[0,35],"range":[67,423],"nice":false,"zero":false},"axis":{"orient":"top","offset":-49,"labels":false,"ticks":false,"title":null}},
       "y":{"field":"r","type":"quantitative","scale":{"domain":[0,100],"range":[212,49],"nice":false,"zero":false},"axis":{"orient":"right","offset":-20,"labels":false,"ticks":false,"title":null}},
       "shape":{"field":"s","type":"nominal","scale":{"domain":["A","B","C","D"],"range":["diamond","square","circle","M-1,-1L1,1M-1,1L1,-1"]},"legend":null},
       "fill":{"field":"s","type":"nominal","scale":{"domain":["A","B","C","D"],"range":["#000000","#000000","#ffffff","transparent"]},"legend":null},
       "size":{"value":55}}}
    ]}
  ],"spacing":0,"bounds":"full"}
 ],"spacing":0,"bounds":"full"},
 {"width":2,"height":307,"data":{"values":[]},"mark":"point","encoding":{},"view":{"fill":"#000000"}},
 {"vconcat":[
  {"width":485,"height":20,"data":{"values":[]},"mark":"point","encoding":{}},
  {"hconcat":[
   {"width":28,"height":1,"data":{"values":[]},"mark":"point","encoding":{}},
   {"width":433,"height":254,"view":{"stroke":"#333333","strokeWidth":1.5},"data":{"name":"pm"},
    "resolve":{"axis":{"x":"independent","y":"independent"}},
    "layer":[
     {"mark":{"type":"line","color":"#000000","strokeWidth":2},
      "encoding":{
       "x":{"field":"t","type":"quantitative","scale":{"domain":[0,20],"range":[64,413],"nice":false,"zero":false},"axis":{"orient":"bottom","offset":-51,"values":[0,2,4,6,8,10,12,14,16,18,20],"title":"Drying time, min"}},
       "y":{"field":"r","type":"quantitative","scale":{"domain":[0,100],"range":[203,42],"nice":false,"zero":false},"axis":{"orient":"left","offset":-64,"values":[0,10,20,30,40,50,60,70,80,90,100],"title":"Drying rate, g/min"}},
       "detail":{"field":"s","type":"nominal"}}},
     {"mark":{"type":"point","filled":true,"opacity":1,"stroke":"#000000","strokeWidth":1.2},
      "encoding":{
       "x":{"field":"t","type":"quantitative","scale":{"domain":[0,20],"range":[64,413],"nice":false,"zero":false},"axis":{"orient":"top","offset":-42,"labels":false,"ticks":false,"title":null}},
       "y":{"field":"r","type":"quantitative","scale":{"domain":[0,100],"range":[203,42],"nice":false,"zero":false},"axis":{"orient":"right","offset":-20,"labels":false,"ticks":false,"title":null}},
       "shape":{"field":"s","type":"nominal","scale":{"domain":["A","B","C","D"],"range":["diamond","square","circle","M-1,-1L1,1M-1,1L1,-1"]},"legend":null},
       "fill":{"field":"s","type":"nominal","scale":{"domain":["A","B","C","D"],"range":["#000000","#000000","#ffffff","transparent"]},"legend":null},
       "size":{"value":55}}}
    ]}
  ],"spacing":0,"bounds":"full"}
 ],"spacing":0,"bounds":"full"},
 {"width":2,"height":307,"data":{"values":[]},"mark":"point","encoding":{},"view":{"fill":"#000000"}}
],"spacing":0,"bounds":"full"},
{"hconcat":[
 {"width":3,"height":2,"data":{"values":[]},"mark":"point","encoding":{}},
 {"width":981,"height":2,"data":{"values":[]},"mark":"point","encoding":{},"view":{"fill":"#000000"}}
],"spacing":0,"bounds":"full"},
{"hconcat":[
 {"width":3,"height":37,"data":{"values":[]},"mark":"point","encoding":{}},
 {"width":2,"height":37,"data":{"values":[]},"mark":"point","encoding":{},"view":{"fill":"#000000"}},
 {"width":977,"height":37,"data":{"values":[{"label":"c-\u00a0\u00a0\u00a0Pomegranate peels"}]},"mark":{"type":"text","font":"Liberation Serif","fontSize":32,"fontWeight":"bold","align":"center","baseline":"middle","color":"#000000","dx":20,"dy":2},"encoding":{"text":{"field":"label"}}},
 {"width":2,"height":37,"data":{"values":[]},"mark":"point","encoding":{},"view":{"fill":"#000000"}}
],"spacing":0,"bounds":"full"},
{"hconcat":[
 {"width":3,"height":2,"data":{"values":[]},"mark":"point","encoding":{}},
 {"width":981,"height":2,"data":{"values":[]},"mark":"point","encoding":{},"view":{"fill":"#000000"}}
],"spacing":0,"bounds":"full"},
{"hconcat":[
 {"width":3,"height":294,"data":{"values":[]},"mark":"point","encoding":{}},
 {"width":2,"height":294,"data":{"values":[]},"mark":"point","encoding":{},"view":{"fill":"#000000"}},
 {"vconcat":[
  {"width":490,"height":13,"data":{"values":[]},"mark":"point","encoding":{}},
  {"hconcat":[
   {"width":19,"height":1,"data":{"values":[]},"mark":"point","encoding":{}},
   {"width":444,"height":250,"view":{"stroke":"#333333","strokeWidth":1.5},"data":{"name":"ge"},
    "resolve":{"axis":{"x":"independent","y":"independent"}},
    "layer":[
     {"mark":{"type":"line","color":"#000000","strokeWidth":2},
      "encoding":{
       "x":{"field":"t","type":"quantitative","scale":{"domain":[0,35],"range":[68,424],"nice":false,"zero":false},"axis":{"orient":"bottom","offset":-45,"values":[0,5,10,15,20,25,30,35],"title":"Drying time, min"}},
       "y":{"field":"r","type":"quantitative","scale":{"domain":[0,220],"range":[205,39],"nice":false,"zero":false},"axis":{"orient":"left","offset":-68,"values":[0,20,40,60,80,100,120,140,160,180,200,220],"title":"Drying rate, g/min"}},
       "detail":{"field":"s","type":"nominal"}}},
     {"mark":{"type":"point","filled":true,"opacity":1,"stroke":"#000000","strokeWidth":1.2},
      "encoding":{
       "x":{"field":"t","type":"quantitative","scale":{"domain":[0,35],"range":[68,424],"nice":false,"zero":false},"axis":{"orient":"top","offset":-39,"labels":false,"ticks":false,"title":null}},
       "y":{"field":"r","type":"quantitative","scale":{"domain":[0,220],"range":[205,39],"nice":false,"zero":false},"axis":{"orient":"right","offset":-20,"labels":false,"ticks":false,"title":null}},
       "shape":{"field":"s","type":"nominal","scale":{"domain":["A","B","C","D"],"range":["diamond","square","circle","M-1,-1L1,1M-1,1L1,-1"]},"legend":null},
       "fill":{"field":"s","type":"nominal","scale":{"domain":["A","B","C","D"],"range":["#000000","#000000","#ffffff","transparent"]},"legend":null},
       "size":{"value":55}}}
    ]}
  ],"spacing":0,"bounds":"full"}
 ],"spacing":0,"bounds":"full"},
 {"width":2,"height":294,"data":{"values":[]},"mark":"point","encoding":{},"view":{"fill":"#000000"}},
 {"vconcat":[
  {"width":485,"height":15,"data":{"values":[]},"mark":"point","encoding":{}},
  {"hconcat":[
   {"width":21,"height":1,"data":{"values":[]},"mark":"point","encoding":{}},
   {"width":444,"height":249,"view":{"stroke":"#333333","strokeWidth":1.5},"data":{"name":"gm"},
    "resolve":{"axis":{"x":"independent","y":"independent"}},
    "layer":[
     {"mark":{"type":"line","color":"#000000","strokeWidth":2},
      "encoding":{
       "x":{"field":"t","type":"quantitative","scale":{"domain":[0,20],"range":[67,426],"nice":false,"zero":false},"axis":{"orient":"bottom","offset":-52,"values":[0,2,4,6,8,10,12,14,16,18,20],"title":"Drying time, min"}},
       "y":{"field":"r","type":"quantitative","scale":{"domain":[0,220],"range":[197,34],"nice":false,"zero":false},"axis":{"orient":"left","offset":-67,"values":[0,20,40,60,80,100,120,140,160,180,200,220],"title":"Drying rate, g/min"}},
       "detail":{"field":"s","type":"nominal"}}},
     {"mark":{"type":"point","filled":true,"opacity":1,"stroke":"#000000","strokeWidth":1.2},
      "encoding":{
       "x":{"field":"t","type":"quantitative","scale":{"domain":[0,20],"range":[67,426],"nice":false,"zero":false},"axis":{"orient":"top","offset":-34,"labels":false,"ticks":false,"title":null}},
       "y":{"field":"r","type":"quantitative","scale":{"domain":[0,220],"range":[197,34],"nice":false,"zero":false},"axis":{"orient":"right","offset":-18,"labels":false,"ticks":false,"title":null}},
       "shape":{"field":"s","type":"nominal","scale":{"domain":["A","B","C","D"],"range":["diamond","square","circle","M-1,-1L1,1M-1,1L1,-1"]},"legend":null},
       "fill":{"field":"s","type":"nominal","scale":{"domain":["A","B","C","D"],"range":["#000000","#000000","#ffffff","transparent"]},"legend":null},
       "size":{"value":55}}}
    ]}
  ],"spacing":0,"bounds":"full"}
 ],"spacing":0,"bounds":"full"},
 {"width":2,"height":294,"data":{"values":[]},"mark":"point","encoding":{},"view":{"fill":"#000000"}}
],"spacing":0,"bounds":"full"},
{"hconcat":[
 {"width":3,"height":2,"data":{"values":[]},"mark":"point","encoding":{}},
 {"width":981,"height":2,"data":{"values":[]},"mark":"point","encoding":{},"view":{"fill":"#000000"}}
],"spacing":0,"bounds":"full"},
{"hconcat":[
 {"width":3,"height":40,"data":{"values":[]},"mark":"point","encoding":{}},
 {"width":2,"height":40,"data":{"values":[]},"mark":"point","encoding":{},"view":{"fill":"#000000"}},
 {"width":977,"height":40,"data":{"values":[{"label":"d-\u00a0\u00a0\u00a0Grapefruit peels"}]},"mark":{"type":"text","font":"Liberation Serif","fontSize":32,"fontWeight":"bold","align":"center","baseline":"middle","color":"#000000","dx":20,"dy":2},"encoding":{"text":{"field":"label"}}},
 {"width":2,"height":40,"data":{"values":[]},"mark":"point","encoding":{},"view":{"fill":"#000000"}}
],"spacing":0,"bounds":"full"},
{"hconcat":[
 {"width":3,"height":2,"data":{"values":[]},"mark":"point","encoding":{}},
 {"width":981,"height":2,"data":{"values":[]},"mark":"point","encoding":{},"view":{"fill":"#000000"}}
],"spacing":0,"bounds":"full"},
{"hconcat":[
 {"width":3,"height":89,"data":{"values":[]},"mark":"point","encoding":{}},
 {"width":2,"height":89,"data":{"values":[]},"mark":"point","encoding":{},"view":{"fill":"#000000"}},
 {"width":977,"height":89,"data":{"values":[{"label":"caption"}]},"mark":{"type":"text","font":"Liberation Serif","fontSize":33,"fontWeight":"bold","align":"left","baseline":"middle","color":"#000000","lineHeight":42,"dy":-22},"encoding":{"x":{"value":2},"text":{"value":["Fig. (1): Variation of drying rate versus drying time for the two used","drying methods of some fruit peels masses"]}}},
 {"width":2,"height":89,"data":{"values":[]},"mark":"point","encoding":{},"view":{"fill":"#000000"}}
],"spacing":0,"bounds":"full"}
]
}
